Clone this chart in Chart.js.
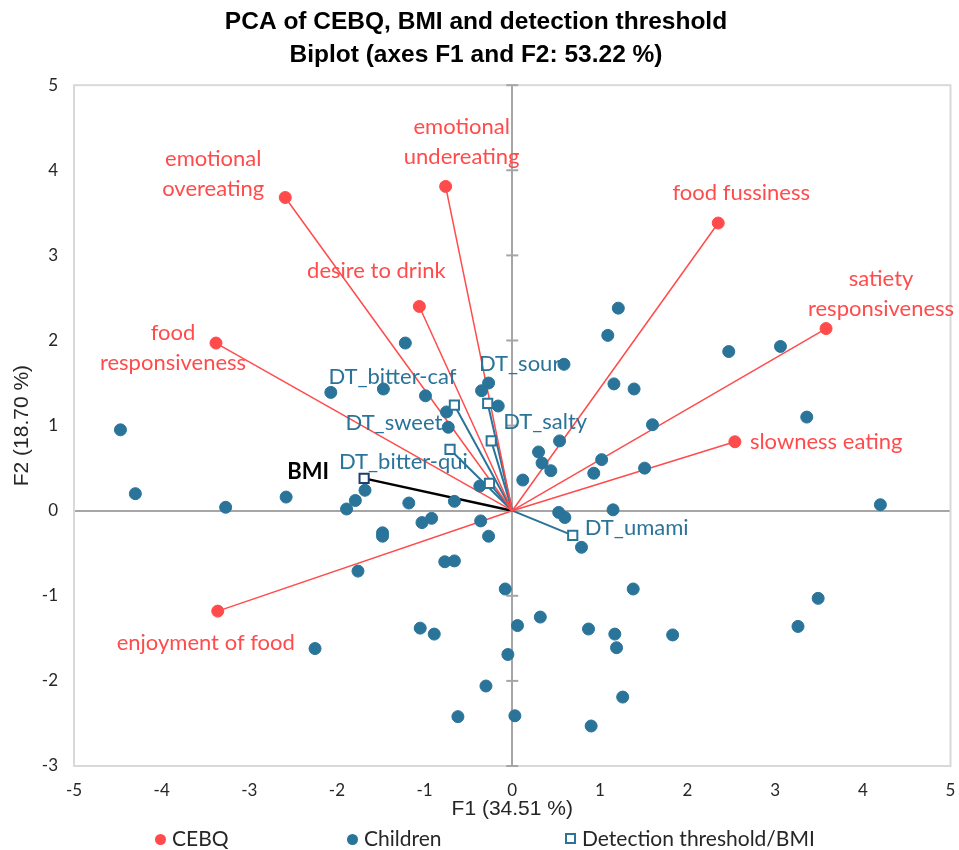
<!DOCTYPE html>
<html lang="en">
<head>
<meta charset="UTF-8" />
<title>PCA biplot</title>
<script src="https://cdn.jsdelivr.net/npm/chart.js"></script>
<style>
    body { margin: 0; background: #fff; }
    .wrap { position: relative; width: 959px; height: 850px; }
    .legend { position: absolute; top: 824px; left: 0; font-family: Lato, sans-serif; font-size: 21px; color: #262626; }
    .legend span { position: absolute; white-space: nowrap; line-height: 28px; }
    .dot { display: inline-block; width: 11px; height: 11px; border-radius: 50%; margin-right: 6px; vertical-align: 1px; }
    .sq { display: inline-block; width: 7px; height: 7px; border: 2px solid #2a7399; margin-right: 6px; vertical-align: 2px; }
</style>
</head>
<body>
<div class="wrap">
    <canvas id="biplot" width="959" height="850"></canvas>
    <div class="legend">
        <span style="left:155px"><i class="dot" style="background:#ff4b4b"></i>CEBQ</span>
        <span style="left:347px"><i class="dot" style="background:#2a7399"></i>Children</span>
        <span style="left:565px"><i class="sq"></i>Detection threshold/BMI</span>
    </div>
</div>

<script>
    // axes
    const xTicks = [-5, -4, -3, -2, -1, 0, 1, 2, 3, 4, 5];
    const yTicks = [-3, -2, -1, 0, 1, 2, 3, 4, 5];

    // CEBQ variables
    const cebqNames = ["emotional overeating", "emotional undereating", "desire to drink", "food responsiveness",
        "food fussiness", "satiety responsiveness", "slowness eating", "enjoyment of food"];
    const cebqF1 = [-2.59, -0.76, -1.06, -3.38, 2.35, 3.58, 2.54, -3.36];
    const cebqF2 = [3.68, 3.81, 2.40, 1.97, 3.38, 2.14, 0.81, -1.18];

    // detection thresholds
    const dtNames = ["DT_bitter-caf", "DT_sweet", "DT_bitter-qui", "DT_sour", "DT_salty", "DT_umami"];
    const dtF1 = [-0.66, -0.71, -0.26, -0.28, -0.24, 0.69];
    const dtF2 = [1.24, 0.72, 0.32, 1.26, 0.82, -0.29];

    const bmiF1 = [-1.69];
    const bmiF2 = [0.38];

    // children (observations)
    const childF1 = [-1.22, -4.47, -4.30, -3.27, -2.58, -2.07, -1.47, -0.99, -0.75, -0.73, -0.27, -0.35, -0.16, -1.68, -1.79, -1.89, -1.18, -0.66, -0.37,
        0.12, 1.21, 1.09, 2.47, 3.06, 0.59, 1.16, 1.39, 3.36, 1.60, 0.54, 0.30, 0.34, 0.44, 1.02, 0.93, 1.51, 4.20, 1.15,
        0.53, 0.60, 0.79, -0.08, 1.38, 3.49, 0.32, 0.06, 3.26, 0.87, 1.17, 1.83, 1.19, -0.05, 1.26, 0.03, 0.90,
        -1.03, -0.92, -0.36, -1.48, -1.48, -0.27, -0.77, -0.66, -1.76, -1.05, -0.89, -2.25, -0.30, -0.62];
    const childF2 = [1.97, 0.95, 0.20, 0.04, 0.16, 1.39, 1.43, 1.35, 1.16, 0.98, 1.50, 1.41, 1.23, 0.24, 0.12, 0.02, 0.09, 0.11, 0.29,
        0.36, 2.38, 2.06, 1.87, 1.93, 1.72, 1.49, 1.43, 1.10, 1.01, 0.82, 0.69, 0.56, 0.47, 0.60, 0.44, 0.50, 0.07, 0.01,
        -0.02, -0.08, -0.43, -0.92, -0.92, -1.03, -1.25, -1.35, -1.36, -1.39, -1.45, -1.46, -1.61, -1.69, -2.19, -2.41, -2.53,
        -0.14, -0.09, -0.12, -0.26, -0.30, -0.30, -0.60, -0.59, -0.71, -1.38, -1.45, -1.62, -2.06, -2.42];

    const RED = "#ff4b4b";
    const BLUE = "#2a7399";
    const NAVY = "#203d6e";

    // label placement (pixels from the point): dx, dy of first line, text align
    const cebqLabelPos = [
        [-72, -39, "center"], [16, -60, "center"], [-43, -36, "center"], [-43, -10, "center"],
        [23, -30, "center"], [55, -50, "center"], [15, 0, "left"], [-12, 32, "center"],
    ];
    const cebqLines = [["emotional", "overeating"], ["emotional", "undereating"], ["desire to drink"],
        ["food", "responsiveness"], ["food fussiness"], ["satiety", "responsiveness"], ["slowness eating"], ["enjoyment of food"]];
    const dtLabelPos = [[-62, -28], [-56, -27], [-86, -22], [32, -40], [54, -19], [64, -7]];
    const bmiLabelPos = [[-56, -6]];

    const toPts = (a, b) => a.map((v, i) => ({ x: v, y: b[i] }));

    function vectors(f1, f2, color, width) {
        return f1.map((v, i) => ({
            label: "vec",
            data: [{ x: 0, y: 0 }, { x: v, y: f2[i] }],
            showLine: true,
            borderColor: color,
            borderWidth: width,
            pointRadius: 0,
            order: 5,
        }));
    }

    const datasets = [
        { label: "CEBQ", data: toPts(cebqF1, cebqF2), backgroundColor: RED, borderColor: RED, pointRadius: 6, order: 1 },
        { label: "Children", data: toPts(childF1, childF2), backgroundColor: BLUE, borderColor: BLUE, pointRadius: 6, order: 2 },
        { label: "Detection threshold", data: toPts(dtF1, dtF2), pointStyle: "rect", backgroundColor: "#fff", borderColor: BLUE, borderWidth: 2, pointRadius: 6.5, order: 1 },
        { label: "BMI", data: toPts(bmiF1, bmiF2), pointStyle: "rect", backgroundColor: "#fff", borderColor: NAVY, borderWidth: 2, pointRadius: 6.5, order: 1 },
        ...vectors(cebqF1, cebqF2, RED, 1.5),
        ...vectors(dtF1, dtF2, BLUE, 2),
        ...vectors(bmiF1, bmiF2, "#000", 2.5),
    ];

    const frame = {
        id: "frame",
        beforeDatasetsDraw(chart) {
            const { ctx, chartArea: a, scales: { x, y } } = chart;
            ctx.save();
            ctx.strokeStyle = "#d9d9d9";
            ctx.lineWidth = 2;
            ctx.strokeRect(a.left, a.top, a.right - a.left, a.bottom - a.top);
            const x0 = x.getPixelForValue(0);
            ctx.strokeStyle = "#a6a6a6";
            yTicks.forEach(v => {
                const py = y.getPixelForValue(v);
                ctx.beginPath();
                ctx.moveTo(x0 - 6, py);
                ctx.lineTo(x0 + 6, py);
                ctx.stroke();
            });
            ctx.restore();
        },
    };

    const pointLabels = {
        id: "pointLabels",
        afterDatasetsDraw(chart) {
            const ctx = chart.ctx;
            ctx.save();
            ctx.textBaseline = "middle";
            ctx.font = "22px Lato";
            ctx.fillStyle = RED;
            chart.getDatasetMeta(0).data.forEach((p, i) => {
                const [dx, dy, align] = cebqLabelPos[i];
                ctx.textAlign = align;
                cebqLines[i].forEach((t, k) => ctx.fillText(t, p.x + dx, p.y + dy + k * 30));
            });
            ctx.fillStyle = BLUE;
            ctx.textAlign = "center";
            chart.getDatasetMeta(2).data.forEach((p, i) => {
                ctx.fillText(dtNames[i], p.x + dtLabelPos[i][0], p.y + dtLabelPos[i][1]);
            });
            ctx.fillStyle = "#000";
            ctx.font = "bold 22px Lato";
            chart.getDatasetMeta(3).data.forEach((p, i) => {
                ctx.fillText("BMI", p.x + bmiLabelPos[i][0], p.y + bmiLabelPos[i][1]);
            });
            ctx.restore();
        },
    };

    const zeroLine = c => (c.tick && c.tick.value === 0 ? "#a6a6a6" : "rgba(0,0,0,0)");

    new Chart(document.getElementById("biplot"), {
        type: "scatter",
        data: { datasets },
        options: {
            responsive: false,
            animation: false,
            layout: { padding: { left: 0, right: 7, top: 0, bottom: 28 } },
            plugins: {
                legend: { display: false },
                tooltip: { enabled: false },
                title: {
                    display: true,
                    text: ["PCA of CEBQ, BMI and detection threshold", "Biplot (axes F1 and F2: 53.22 %)"],
                    color: "#000",
                    font: { family: "Liberation Sans", size: 24.5, weight: "bold", lineHeight: 1.33 },
                    padding: { top: 6, bottom: 14 },
                },
            },
            scales: {
                x: {
                    type: "linear",
                    min: -5,
                    max: 5,
                    afterBuildTicks: s => { s.ticks = xTicks.map(v => ({ value: v })); },
                    afterFit: s => { s.height = 56; s.paddingLeft = 0; s.paddingRight = 0; },
                    ticks: { padding: 14, color: "#262626", font: { family: "Lato", size: 17 } },
                    grid: { drawTicks: false, color: zeroLine, lineWidth: 2 },
                    border: { display: false },
                    title: { display: true, text: "F1 (34.51 %)", color: "#262626", font: { family: "Liberation Sans", size: 21 }, padding: 0 },
                },
                y: {
                    type: "linear",
                    min: -3,
                    max: 5,
                    afterBuildTicks: s => { s.ticks = yTicks.map(v => ({ value: v })); },
                    afterFit: s => { s.width = 74; },
                    ticks: { padding: 16, color: "#262626", font: { family: "Lato", size: 17 } },
                    grid: { drawTicks: false, color: zeroLine, lineWidth: 2 },
                    border: { display: false },
                    title: { display: true, text: "F2 (18.70 %)", color: "#262626", font: { family: "Liberation Sans", size: 21 }, padding: { top: 10 } },
                },
            },
        },
        plugins: [frame, pointLabels],
    });
</script>
</body>
</html>
